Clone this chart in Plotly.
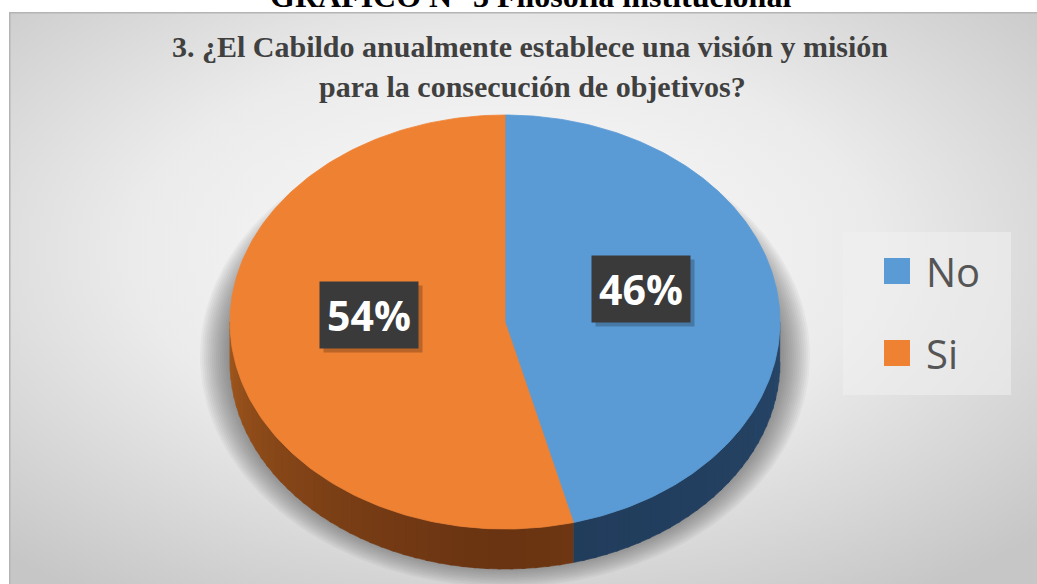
import base64
import numpy as np
import plotly.graph_objects as go

# Survey answers
categories = ["No", "Si"]
values = [46, 54]
slice_colors = ["#5B9BD5", "#EF8133"]
side_dark = ["#213c5b", "#6a3412"]
side_light = ["#264567", "#a2581d"]

caption = "GRÁFICO N° 3 Filosofía institucional"
title_lines = ["3. ¿El Cabildo anualmente establece una visión y misión",
               "para la consecución de objetivos?"]

W, H = 1037, 584
# pie geometry (pixel space of the figure)
CX, CY = 505, 322
RX, RY = 275, 207
DEPTH = 40


def ellipse_pt(phi_deg, dy=0.0, sx=1.0, sy=1.0):
    p = np.radians(phi_deg)
    return CX + RX * sx * np.sin(p), CY + dy - RY * sy * np.cos(p)


fig = go.Figure()

# soft drop shadow below the disc
for k in range(16):
    grow = 30 - k * 2
    t = np.linspace(0, 360, 181)
    p = np.radians(t)
    xs = CX + (RX + grow) * np.sin(p)
    ys = CY + 34 - (RY + grow * 0.8) * np.cos(p)
    fig.add_trace(go.Scatter(x=xs, y=ys, mode="lines", fill="toself",
                             fillcolor="rgba(70,70,70,0.05)",
                             line=dict(width=0), hoverinfo="skip",
                             showlegend=False))

total = float(sum(values))
starts, ends = [], []
acc = 0.0
for v in values:
    starts.append(acc / total * 360)
    acc += v
    ends.append(acc / total * 360)


def mix(c1, c2, f):
    a = [int(c1[i:i + 2], 16) for i in (1, 3, 5)]
    b = [int(c2[i:i + 2], 16) for i in (1, 3, 5)]
    return "rgb(%d,%d,%d)" % tuple(round(a[j] + (b[j] - a[j]) * f) for j in range(3))


# visible side wall of each slice (front half of the disc, 90..270 degrees)
for i, (a0, a1) in enumerate(zip(starts, ends)):
    lo, hi = max(a0, 90), min(a1, 270)
    if hi <= lo:
        continue
    n = max(2, int((hi - lo) / 2.5))
    edges = np.linspace(lo, hi, n + 1)
    for j in range(n):
        e0, e1 = edges[j], min(edges[j + 1] + 0.6, hi)
        tt = np.linspace(e0, e1, 6)
        xt, yt = ellipse_pt(tt)
        xb, yb = ellipse_pt(tt[::-1], dy=DEPTH)
        mid = 0.5 * (e0 + e1)
        # shading grows lighter toward the left/right rims
        f = abs(mid - 180) / 90.0
        col = mix(side_dark[i], side_light[i], f ** 1.4)
        fig.add_trace(go.Scatter(x=np.r_[xt, xb], y=np.r_[yt, yb], mode="lines",
                                 fill="toself", fillcolor=col,
                                 line=dict(width=0.6, color=col),
                                 hoverinfo="skip", showlegend=False))

# top faces
for i, (a0, a1) in enumerate(zip(starts, ends)):
    tt = np.linspace(a0, a1, 200)
    xa, ya = ellipse_pt(tt)
    fig.add_trace(go.Scatter(x=np.r_[CX, xa, CX], y=np.r_[CY, ya, CY], mode="lines",
                             fill="toself", fillcolor=slice_colors[i],
                             line=dict(width=0.8, color=slice_colors[i]),
                             name=categories[i], hoverinfo="skip", showlegend=False))

annotations = []
shapes = []

# percentage labels on dark boxes
for i, v in enumerate(values):
    mid = 0.5 * (starts[i] + ends[i])
    lx, ly = ellipse_pt(mid, dy=-20, sx=0.5, sy=0.5)
    txt = f"{round(v / total * 100)}%"
    annotations.append(dict(x=lx + 4, y=ly + 4, xref="x", yref="y", text=" ",
                            showarrow=False, width=98, height=66, borderpad=0,
                            bgcolor="rgba(0,0,0,0.22)"))
    annotations.append(dict(x=lx, y=ly, xref="x", yref="y", text=f"<b>{txt}</b>",
                            showarrow=False, width=98, height=66, borderpad=0,
                            bgcolor="#3a3a3a",
                            font=dict(family="Open Sans", size=41, color="white")))

# legend panel
shapes.append(dict(type="rect", xref="x", yref="y", x0=843, x1=1011, y0=232, y1=395,
                   fillcolor="rgba(240,240,240,0.55)", line=dict(width=0), layer="above"))
for i, name in enumerate(categories):
    yc = 271 + i * 82
    shapes.append(dict(type="rect", xref="x", yref="y", x0=884, x1=910,
                       y0=yc - 13, y1=yc + 13, fillcolor=slice_colors[i],
                       line=dict(width=0), layer="above"))
    annotations.append(dict(x=924, y=yc, xref="x", yref="y", text=name,
                            xanchor="left", yanchor="middle", showarrow=False,
                            font=dict(family="Open Sans", size=40, color="#555555")))

# chart title
annotations.append(dict(x=530, y=46, xref="x", yref="y", text=f"<b>{title_lines[0]}</b>",
                        showarrow=False, xanchor="center", yanchor="middle",
                        font=dict(family="Liberation Serif", size=30, color="#404040")))
annotations.append(dict(x=532, y=86, xref="x", yref="y", text=f"<b>{title_lines[1]}</b>",
                        showarrow=False, xanchor="center", yanchor="middle",
                        font=dict(family="Liberation Serif", size=30, color="#404040")))

# document caption above the chart frame (only its lower half fits on the page)
annotations.append(dict(x=530 / W, y=1 + 4 / H, xref="paper", yref="paper",
                        text=f"<b>{caption}</b>",
                        showarrow=False, xanchor="center", yanchor="middle",
                        font=dict(family="Liberation Serif", size=32, color="#000000")))

# gradient backdrop of the chart frame
svg = ("<svg xmlns='http://www.w3.org/2000/svg' width='1028' height='572' "
       "viewBox='0 0 1028 572' preserveAspectRatio='none'><defs>"
       "<radialGradient id='g' cx='0.48' cy='0.42' r='0.72'>"
       "<stop offset='0' stop-color='#fbfbfb'/><stop offset='0.5' stop-color='#ebebeb'/>"
       "<stop offset='1' stop-color='#c6c6c6'/></radialGradient></defs>"
       "<rect x='0' y='0' width='1028' height='572' fill='url(#g)'/>"
       "<rect x='0.75' y='0.75' width='1030' height='575' fill='none' "
       "stroke='#b4b4b4' stroke-width='1.5'/></svg>")
img_src = "data:image/svg+xml;base64," + base64.b64encode(svg.encode()).decode()

fig.update_layout(
    width=W, height=H,
    margin=dict(l=0, r=0, t=0, b=0),
    paper_bgcolor="white", plot_bgcolor="rgba(0,0,0,0)",
    xaxis=dict(range=[0, W], visible=False, fixedrange=True),
    yaxis=dict(range=[H, 0], visible=False, fixedrange=True),
    showlegend=False,
    annotations=annotations,
    shapes=shapes,
    images=[dict(source=img_src, xref="paper", yref="paper",
                 x=9 / W, y=1 - 12 / H, sizex=1028 / W, sizey=572 / H,
                 xanchor="left", yanchor="top", sizing="stretch", layer="below")],
)

fig.write_html("out.html")
